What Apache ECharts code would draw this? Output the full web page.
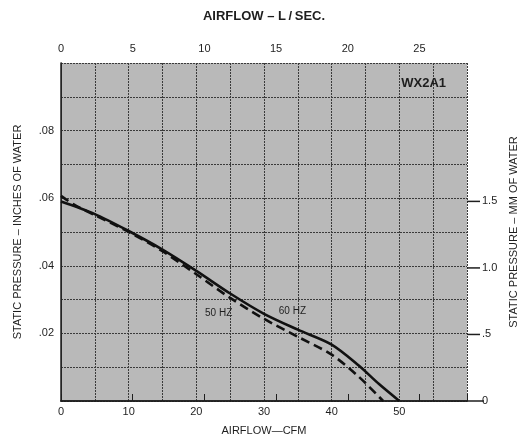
<!DOCTYPE html>
<html>
<head>
<meta charset="utf-8">
<title>WX2A1 fan curve</title>
<script src="https://cdn.jsdelivr.net/npm/echarts@6/dist/echarts.min.js"></script>
<style>
  html, body { margin: 0; padding: 0; background: #fff; }
  #chart { width: 521px; height: 441px; }
</style>
</head>
<body>
<div id="chart"></div>
<script>
// airflow (CFM) vs static pressure (inches of water)
var cfm60 = [0, 5, 10, 15, 20, 25, 30, 35, 40, 44, 47, 50];
var pres60 = [0.059, 0.0553, 0.0503, 0.0448, 0.0385, 0.0318, 0.0258, 0.0211, 0.0167, 0.0105, 0.005, 0];
var cfm50 = [0, 2, 5, 10, 15, 20, 25, 30, 35, 40, 44, 47.6];
var pres50 = [0.0607, 0.058, 0.055, 0.05, 0.0443, 0.0375, 0.0305, 0.0243, 0.019, 0.0137, 0.0072, 0];

var leftTicks = [0.02, 0.04, 0.06, 0.08];
var rightTicks = [0, 0.5, 1.0, 1.5];
var rightTickLabels = ['0', '.5', '1.0', '1.5'];
var cfmMax = 60;
var cfmPerLps = 2.11888;
var inToMm = 25.4;

(function () {
  'use strict';

  var chart = echarts.init(document.getElementById('chart'), null, { renderer: 'canvas' });
  var ink = '#1e1e1e';
  var font = 'Liberation Sans, Arial, sans-serif';

  function pairs(xs, ys) {
    return xs.map(function (x, i) { return [x, ys[i]]; });
  }

  chart.setOption({
    animation: false,
    backgroundColor: '#fff',
    textStyle: { fontFamily: font, color: ink },
    title: {
      text: 'WX2A1',
      right: 70,
      top: 72,
      textStyle: { fontSize: 13, fontWeight: 'bold', color: ink, fontFamily: font }
    },
    grid: {
      left: 61,
      right: 54,
      top: 63,
      bottom: 40,
      outerBoundsMode: 'none',
      containLabel: false,
      show: true,
      backgroundColor: '#b9b9b9',
      borderWidth: 0
    },
    xAxis: [
      {
        type: 'value',
        position: 'bottom',
        min: 0,
        max: cfmMax,
        interval: 5,
        name: 'AIRFLOW\u2014CFM',
        nameLocation: 'middle',
        nameGap: 24,
        nameTextStyle: { fontSize: 11, color: ink },
        axisLine: { lineStyle: { color: ink, width: 1.5 } },
        axisTick: { show: false },
        axisLabel: {
          margin: 5,
          fontSize: 11,
          color: ink,
          formatter: function (v) { return (v % 10 === 0 && v <= 50) ? String(v) : ''; }
        },
        splitLine: { lineStyle: { color: '#3a3a3a', width: 1, type: [2, 1] } }
      },
      {
        type: 'value',
        position: 'top',
        min: 0,
        max: cfmMax / cfmPerLps,
        interval: 5,
        name: 'AIRFLOW \u2013 L\u2009/\u2009SEC.',
        nameLocation: 'middle',
        nameGap: 40,
        nameTextStyle: { fontSize: 13, fontWeight: 'bold', color: ink },
        axisLine: { lineStyle: { color: ink, width: 1.5 } },
        axisTick: { show: true, inside: false, length: 7, lineStyle: { color: ink } },
        axisLabel: {
          margin: 9,
          fontSize: 11,
          color: ink,
          formatter: function (v) { return v <= 25 ? String(v) : ''; }
        },
        splitLine: { show: false }
      }
    ],
    yAxis: [
      {
        type: 'value',
        position: 'left',
        min: 0,
        max: 0.1,
        interval: 0.01,
        name: 'STATIC PRESSURE \u2013 INCHES OF WATER',
        nameLocation: 'middle',
        nameGap: 38,
        nameRotate: 90,
        nameTextStyle: { fontSize: 11, color: ink },
        axisLine: { show: true, lineStyle: { color: '#3a3a3a', width: 1 } },
        axisTick: { show: false },
        axisLabel: {
          margin: 7,
          fontSize: 11,
          color: ink,
          customValues: leftTicks,
          formatter: function (v) { return v.toFixed(2).replace(/^0/, ''); }
        },
        splitLine: { lineStyle: { color: '#3a3a3a', width: 1, type: [2, 1] } }
      },
      {
        type: 'value',
        position: 'right',
        min: 0,
        max: 0.1 * inToMm,
        name: 'STATIC PRESSURE \u2013 MM OF WATER',
        nameLocation: 'middle',
        nameGap: 38,
        nameRotate: 90,
        nameTextStyle: { fontSize: 11, color: ink },
        axisLine: { show: true, lineStyle: { color: ink, width: 1.5 } },
        axisTick: { show: false },
        axisLabel: {
          margin: 15,
          fontSize: 11,
          color: ink,
          customValues: rightTicks,
          formatter: function (v) { return rightTickLabels[rightTicks.indexOf(v)]; }
        },
        splitLine: { show: false }
      }
    ],
    series: [
      {
        name: '60 HZ',
        type: 'line',
        xAxisIndex: 0,
        yAxisIndex: 0,
        data: pairs(cfm60, pres60),
        smooth: 0.3,
        showSymbol: false,
        lineStyle: { color: '#111', width: 2.6 },
        markPoint: {
          symbol: 'circle',
          symbolSize: 0,
          label: { show: true, formatter: '60 HZ', fontSize: 10, color: ink },
          data: [{ coord: [34.2, 0.0266] }]
        },
        z: 3
      },
      {
        name: '50 HZ',
        type: 'line',
        xAxisIndex: 0,
        yAxisIndex: 0,
        data: pairs(cfm50, pres50),
        smooth: 0.3,
        showSymbol: false,
        lineStyle: { color: '#111', width: 2.6, type: [9, 5] },
        markPoint: {
          symbol: 'circle',
          symbolSize: 0,
          label: { show: true, formatter: '50 HZ', fontSize: 10, color: ink },
          data: [{ coord: [23.3, 0.026] }]
        },
        z: 2
      }
    ]
  });

  // right-hand mm ticks, placed through the right axis scale
  var edgeX = chart.convertToPixel({ xAxisIndex: 0 }, cfmMax);
  chart.setOption({
    graphic: rightTicks.map(function (v) {
      var y = chart.convertToPixel({ yAxisIndex: 1 }, v);
      return {
        type: 'line',
        shape: { x1: edgeX, y1: y, x2: edgeX + (v === 0 ? 17 : 13), y2: y },
        style: { stroke: ink, lineWidth: 1.5 },
        z: 10
      };
    })
  });
})();
</script>
</body>
</html>
